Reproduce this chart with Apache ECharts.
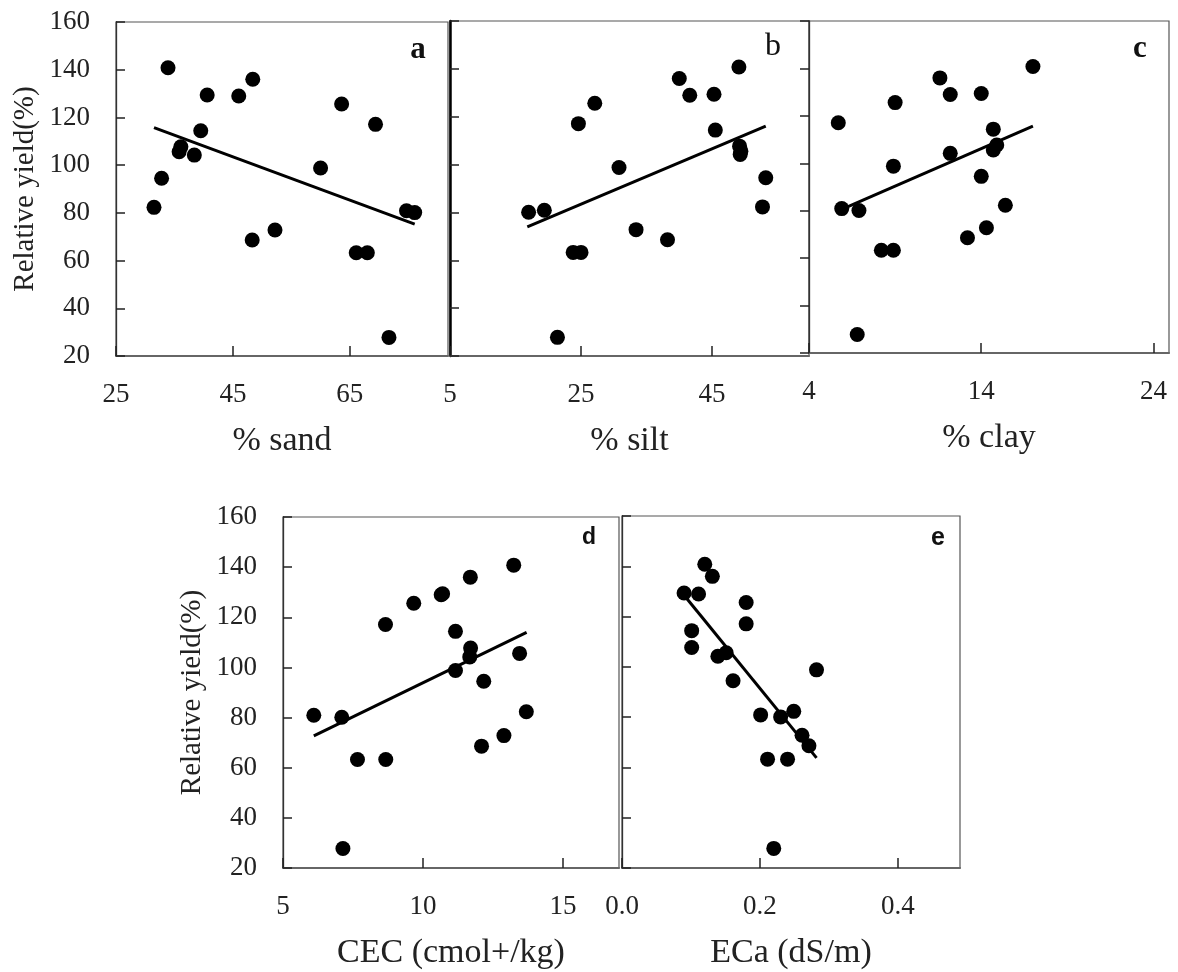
<!DOCTYPE html>
<html>
<head>
<meta charset="utf-8">
<script src="https://cdn.jsdelivr.net/npm/echarts@6/dist/echarts.min.js"></script>
<style>
html,body{margin:0;padding:0;background:#fff;}
#chart{width:1178px;height:972px;}
</style>
</head>
<body>
<div id="chart"></div>
<script>
// ---- data (one entry per sample) ----
const relYield = [140.8,136.0,129.4,129.0,125.6,117.1,114.4,107.7,105.6,104.2,98.8,94.5,82.3,80.9,80.1,72.8,68.6,63.3,63.3,27.8];
const sand = [33.9,48.4,40.6,46.0,63.6,69.4,39.5,36.1,35.8,38.4,60.0,32.8,31.5,74.7,76.1,52.2,48.3,66.1,68.0,71.7];
const silt = [49.1,40.0,45.3,41.6,27.1,24.6,45.5,49.2,49.4,49.3,30.8,53.2,52.7,19.4,17.0,33.4,38.2,25.0,23.8,21.4];
const clay = [17.0,11.6,14.0,12.2,9.0,5.7,14.7,14.9,14.7,12.2,8.9,14.0,15.4,5.9,6.9,14.3,13.2,8.9,8.2,6.8];
const cec = [13.24,11.69,10.7,10.65,9.67,8.66,11.16,11.70,13.45,11.67,11.16,12.17,13.69,6.1,7.1,12.89,12.09,8.67,7.66,7.14];
const eca = [0.120,0.131,0.090,0.111,0.180,0.180,0.101,0.101,0.151,0.139,0.282,0.161,0.249,0.201,0.230,0.261,0.271,0.211,0.240,0.220];

// trend lines (end points)
const trendSandX = [31.5, 76.1], trendSandY = [115.7, 75.3];
const trendSiltX = [16.8, 53.2], trendSiltY = [74.0, 116.1];
const trendClayX = [6.2, 17.0], trendClayY = [81.5, 115.7];
const trendCecX = [6.1, 13.7], trendCecY = [72.7, 114.0];
const trendEcaX = [0.093, 0.282], trendEcaY = [127.5, 63.8];

// axis settings
const xNames = ['% sand', '% silt', '% clay', 'CEC (cmol+/kg)', 'ECa (dS/m)'];
const xMin = [25, 5, 4, 5, 0];
const xMax = [81.8, 59.8, 24.9, 17, 0.49];
const xInterval = [20, 20, 10, 5, 0.2];
const yTicks = [20, 160, 20]; // min, max, interval
const yName = 'Relative yield(%)';
const panelLetters = ['a', 'b', 'c', 'd', 'e'];

const xs = [sand, silt, clay, cec, eca];
const trendX = [trendSandX, trendSiltX, trendClayX, trendCecX, trendEcaX];
const trendY = [trendSandY, trendSiltY, trendClayY, trendCecY, trendEcaY];

const SERIF = '"Liberation Serif", "Times New Roman", serif';

const grids = [
  {left: 116, top: 22, width: 332, height: 334},
  {left: 450, top: 21, width: 359, height: 335},
  {left: 809, top: 21, width: 360, height: 332},
  {left: 283, top: 517, width: 336, height: 351},
  {left: 622, top: 516, width: 338, height: 352}
].map(g => Object.assign({show: true, borderColor: '#555', borderWidth: 1.2, backgroundColor: 'transparent'}, g));

const xAxes = xNames.map((n, i) => ({
  type: 'value', gridIndex: i, min: xMin[i], max: xMax[i], interval: xInterval[i],
  name: n, nameLocation: 'middle', nameGap: 68,
  nameTextStyle: {fontFamily: SERIF, fontSize: 34, color: '#222'},
  axisLine: {show: true, onZero: false, lineStyle: {color: '#666', width: 2}},
  axisTick: {show: true, inside: true, length: 10, lineStyle: {color: '#222', width: 1.5}},
  axisLabel: {show: true, margin: 25, showMaxLabel: false, fontFamily: SERIF, fontSize: 27, color: '#222',
    formatter: v => (i === 4 ? Number(v).toFixed(1) : String(v))},
  splitLine: {show: false}
}));

const yAxes = [0,1,2,3,4].map(i => ({
  type: 'value', gridIndex: i, min: yTicks[0], max: yTicks[1], interval: yTicks[2],
  name: (i === 0 || i === 3) ? yName : '', nameLocation: 'middle', nameGap: 76,
  nameTextStyle: {fontFamily: SERIF, fontSize: 29, color: '#222'},
  axisLine: {show: true, onZero: false, lineStyle: {color: i === 1 ? '#000' : '#333', width: i === 1 ? 2.5 : 1.3}},
  axisTick: {show: true, inside: i !== 2, length: 9, lineStyle: {color: '#222', width: 1.5}},
  axisLabel: {show: i === 0 || i === 3, margin: 26, showMaxLabel: i === 0 || i === 3, fontFamily: SERIF, fontSize: 27, color: '#222'},
  splitLine: {show: false}
}));

const series = [];
for (let i = 0; i < 5; i++) {
  series.push({
    type: 'scatter', xAxisIndex: i, yAxisIndex: i, symbol: 'circle', symbolSize: 15,
    itemStyle: {color: '#000', opacity: 1},
    data: xs[i].map((x, k) => [x, relYield[k]]),
    z: 3
  });
  series.push({
    type: 'line', xAxisIndex: i, yAxisIndex: i, symbol: 'none', silent: true,
    lineStyle: {color: '#000', width: 3},
    data: trendX[i].map((x, k) => [x, trendY[i][k]]),
    z: 4
  });
}

const letterPos = [[418, 50, 'bold 31px ' + SERIF], [773, 47, '32px ' + SERIF], [1140, 49, 'bold 31px ' + SERIF],
                   [589, 538, 'bold 23px "Liberation Sans", Arial, sans-serif'], [938, 538, 'bold 25px "Liberation Sans", Arial, sans-serif']];
const graphic = panelLetters.map((t, i) => ({
  type: 'text', z: 10,
  style: {text: t, x: letterPos[i][0], y: letterPos[i][1], font: letterPos[i][2], fill: '#111',
          textAlign: 'center', textVerticalAlign: 'middle'}
}));

const chart = echarts.init(document.getElementById('chart'), null, {renderer: 'canvas'});
chart.setOption({
  animation: false,
  backgroundColor: '#fff',
  grid: grids,
  xAxis: xAxes,
  yAxis: yAxes,
  series: series,
  graphic: graphic
});
</script>
</body>
</html>
